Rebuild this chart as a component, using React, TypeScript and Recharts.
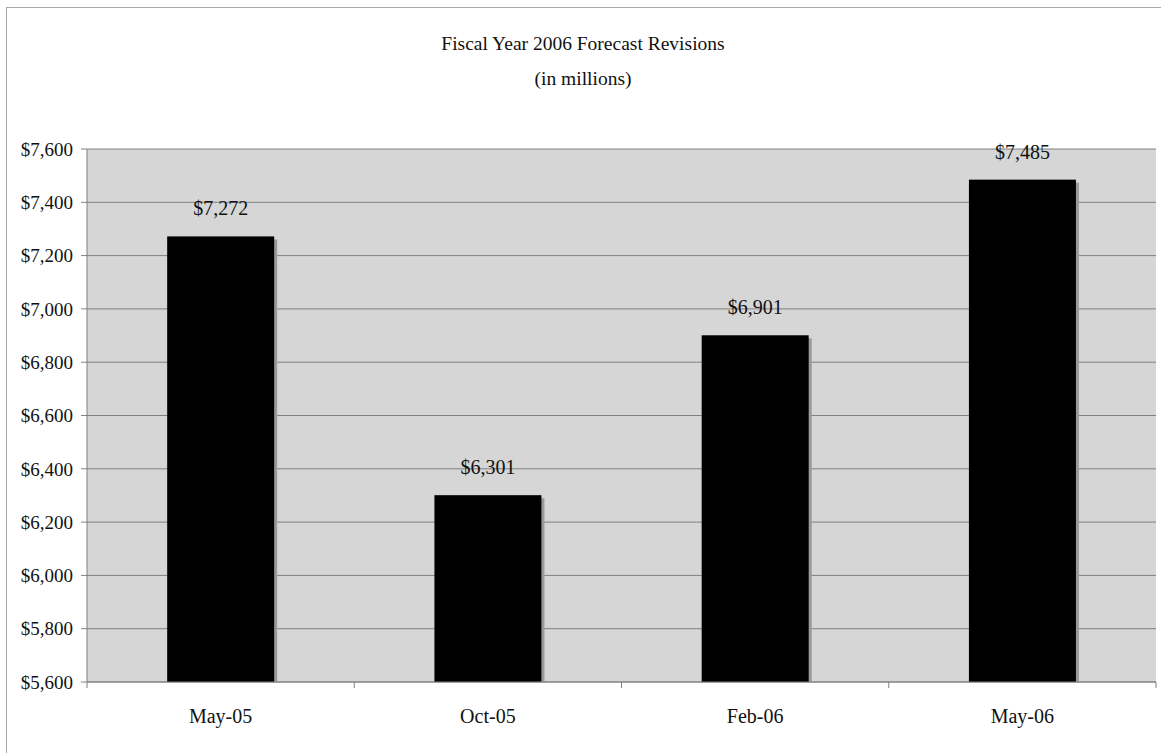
import React from "react";
import {
  BarChart,
  Bar,
  XAxis,
  YAxis,
  CartesianGrid,
  LabelList,
} from "recharts";

const categories = ["May-05", "Oct-05", "Feb-06", "May-06"];
const forecast = [7272, 6301, 6901, 7485];
const yTicks = [5600, 5800, 6000, 6200, 6400, 6600, 6800, 7000, 7200, 7400, 7600];

const data = categories.map((month, i) => ({ month, value: forecast[i] }));

const W = 1161;
const H = 753;
const MARGIN = { top: 149, right: 5, bottom: 41, left: 0 };
const Y_AXIS_W = 87;
const FONT = "'Liberation Serif', 'Times New Roman', serif";
const BAND = (W - Y_AXIS_W - MARGIN.right) / categories.length;

const money = (v: number) => `$${v.toLocaleString("en-US")}`;

function ShadowBar(props: any) {
  const { x, y, width, height } = props;
  return (
    <g>
      <rect x={x + 3} y={y + 3} width={width} height={Math.max(height - 3, 0)} fill="#9a9a9a" />
      <rect x={x} y={y} width={width} height={height} fill="#000" />
    </g>
  );
}

function CategoryTick(props: any) {
  const { x, y, payload, index } = props;
  const left = x - BAND / 2;
  const right = x + BAND / 2;
  return (
    <g>
      <line x1={left} y1={y - 8} x2={left} y2={y - 2} stroke="#808080" />
      {index === categories.length - 1 && (
        <line x1={right} y1={y - 8} x2={right} y2={y - 2} stroke="#808080" />
      )}
      <text
        x={x}
        y={y + 33}
        textAnchor="middle"
        style={{ fontFamily: FONT, fontSize: 20 }}
        fill="#111"
      >
        {payload.value}
      </text>
    </g>
  );
}

export default function App() {
  return (
    <div
      style={{
        position: "absolute",
        left: 0,
        top: 0,
        width: W,
        height: H,
        background: "#fff",
        overflow: "hidden",
        fontFamily: FONT,
      }}
    >
      <div
        style={{
          position: "absolute",
          left: 6,
          top: 7,
          width: W,
          height: H,
          border: "1px solid #a8a8a8",
          boxSizing: "border-box",
        }}
      />
      <div
        style={{
          position: "absolute",
          left: 6,
          width: 1154,
          top: 26,
          textAlign: "center",
          fontFamily: FONT,
          fontSize: 19.5,
          lineHeight: "35px",
          color: "#111",
        }}
      >
        Fiscal Year 2006 Forecast Revisions
        <br />
        (in millions)
      </div>
      <div style={{ position: "absolute", left: 0, top: 0 }}>
        <BarChart
          width={W}
          height={H}
          data={data}
          margin={MARGIN}
          barCategoryGap="30%"
          style={{ fontFamily: FONT }}
        >
          <CartesianGrid
            vertical={false}
            fill="#d6d6d6"
            fillOpacity={1}
            stroke="#808080"
            strokeOpacity={1}
          />
          <XAxis
            dataKey="month"
            height={30}
            axisLine={{ stroke: "#808080" }}
            tickLine={false}
            tick={<CategoryTick />}
            interval={0}
          />
          <YAxis
            domain={[5600, 7600]}
            ticks={yTicks}
            allowDataOverflow
            width={Y_AXIS_W}
            tickFormatter={money}
            tick={{ fontSize: 19, fill: "#111", style: { fontFamily: FONT } }}
            axisLine={{ stroke: "#808080" }}
            tickLine={{ stroke: "#808080" }}
            tickSize={6}
            tickMargin={8}
          />
          <YAxis
            yAxisId="right"
            orientation="right"
            width={0}
            tick={false}
            tickLine={false}
            axisLine={{ stroke: "#808080" }}
          />
          <Bar
            dataKey="value"
            shape={<ShadowBar />}
            isAnimationActive={false}
          >
            <LabelList
              dataKey="value"
              position="top"
              offset={21}
              formatter={(v: any) => money(Number(v))}
              style={{ fontFamily: FONT, fontSize: 20, fill: "#111" }}
            />
          </Bar>
        </BarChart>
      </div>
    </div>
  );
}
